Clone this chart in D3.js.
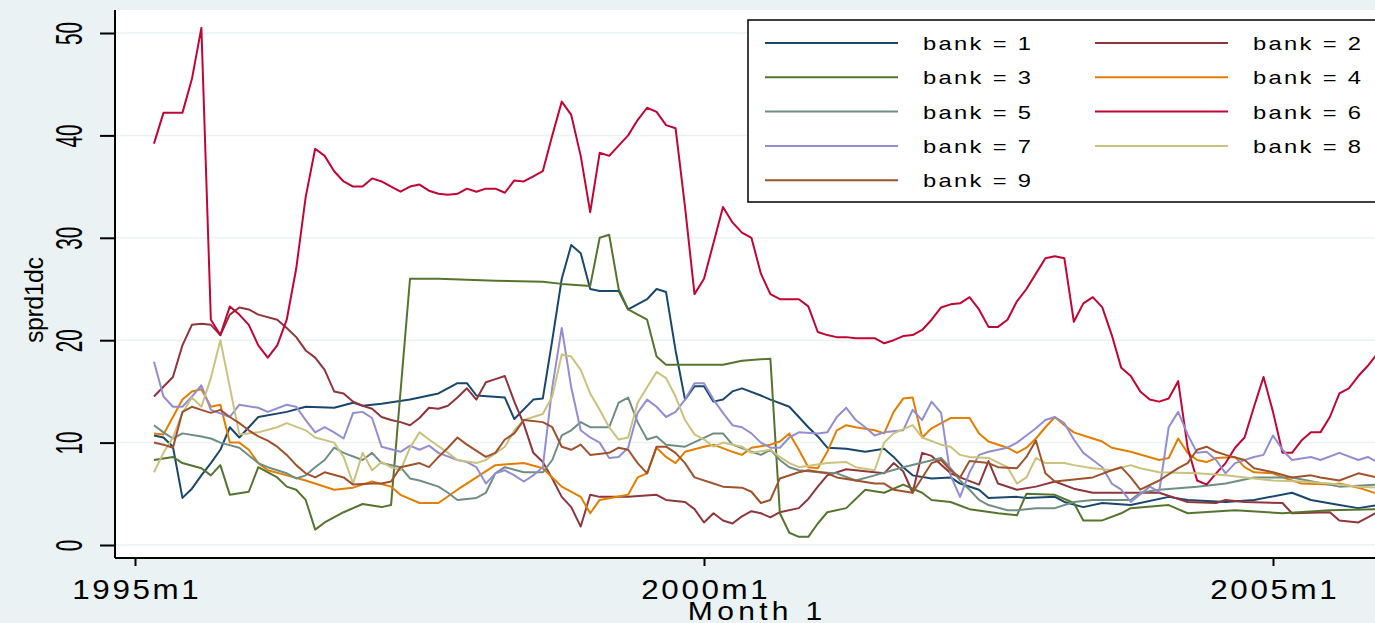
<!DOCTYPE html>
<html>
<head>
<meta charset="utf-8">
<script src="https://cdn.jsdelivr.net/npm/d3@7"></script>
<style>
  body { margin: 0; background: #eaf2f3; overflow: hidden; }
  svg { display: block; }
  text { font-family: "Liberation Sans", Arial, sans-serif; fill: #000; }
</style>
</head>
<body>
<div id="chart"></div>
<script>
// months counted from 1995m1 = 0, values = sprd1dc
const bank1 = [[2,10.7],[3,10.5],[4,9.6],[5,4.6],[6,5.5],[7,6.8],[8,8],[9,9.3],[10,11.5],[11,10.5],[13,12.5],[16,13],[18,13.5],[21,13.4],[23,13.9],[24,13.6],[26,13.8],[29,14.2],[32,14.8],[34,15.8],[35,15.8],[36,14.6],[39,14.4],[40,12.3],[42,14.2],[43,14.3],[44,20],[45,26],[46,29.3],[47,28.5],[48,25],[49,24.8],[51,24.8],[52,23],[54,24],[55,25],[56,24.7],[57,19],[58,14.2],[59,15.5],[60,15.5],[61,14],[62,14.2],[63,15],[64,15.3],[66,14.6],[67,14.2],[69,13.5],[70,12.5],[71,11.5],[72,10.6],[73,9.5],[75,9.4],[77,9.1],[79,9.4],[80,8.6],[81,7.6],[82,6.8],[84,6.5],[86,6.6],[87,6],[89,5.4],[90,4.6],[93,4.7],[94,4.6],[97,4.7],[98,4.2],[100,3.7],[102,4.1],[105,3.9],[109,4.7],[111,4.4],[115,4.2],[118,4.4],[122,5.1],[124,4.4],[127,3.9],[129,3.6],[131,3.9]];
const bank2 = [[2,14.5],[4,16.4],[5,19.5],[6,21.5],[7,21.6],[8,21.5],[9,20.5],[10,22.5],[11,23.2],[12,23],[13,22.5],[15,22],[16,21.2],[17,20.3],[18,19],[19,18.3],[20,17.1],[21,15],[22,14.8],[23,14],[24,13.6],[25,13.3],[26,12.5],[27,12.2],[28,12],[29,11.7],[30,12.4],[31,13.4],[32,13.3],[33,13.6],[34,14.4],[35,15.3],[36,14.2],[37,15.9],[38,16.2],[39,16.5],[40,14],[41,11.8],[42,9],[43,8.1],[44,6.5],[45,4.7],[46,3.7],[47,1.8],[48,4.9],[49,4.7],[52,4.7],[55,4.9],[56,4.4],[58,4.2],[59,3.5],[60,2.2],[61,3.1],[62,2.4],[63,2.1],[64,2.8],[65,3.3],[66,3.1],[67,2.7],[68,3.2],[70,3.6],[71,4.5],[72,5.7],[73,6.8],[75,7.4],[77,7.2],[79,7],[80,8],[81,7.2],[82,5.1],[83,9],[84,8.7],[86,7],[87,6.6],[89,5.9],[90,8.2],[91,6],[93,5.4],[95,5.7],[97,6.2],[99,5.5],[101,5.1],[105,5.1],[108,5.1],[111,4.2],[114,4.1],[115,4.4],[117,4.2],[121,4.1],[122,3.1],[126,3.2],[127,2.4],[129,2.2],[130,2.7],[131,3.2]];
const bank3 = [[2,8.3],[4,8.6],[5,8],[7,7.5],[8,6.8],[9,7.8],[10,4.9],[12,5.2],[13,7.6],[15,6.6],[16,5.7],[17,5.4],[18,4.4],[19,1.5],[20,2.2],[22,3.2],[24,4],[26,3.7],[27,3.9],[28,15],[29,26],[32,26],[35,25.9],[38,25.8],[43,25.7],[45,25.5],[48,25.3],[49,30],[50,30.3],[51,25],[52,23],[54,22],[55,18.4],[56,17.6],[62,17.6],[64,18],[67,18.2],[68,3.1],[69,1.2],[70,0.8],[71,0.8],[72,2.1],[73,3.2],[75,3.6],[77,5.4],[79,5.1],[81,5.9],[83,5.1],[84,4.4],[86,4.2],[88,3.5],[91,3.1],[93,2.9],[94,5],[97,4.9],[99,4.1],[100,2.4],[102,2.4],[104,3.1],[105,3.6],[109,3.9],[111,3.1],[116,3.4],[121,3.1],[126,3.4],[131,3.5]];
const bank4 = [[2,10.9],[3,10.8],[4,12.5],[5,14.2],[6,15],[7,15.2],[8,13.5],[9,13.7],[10,10],[11,10],[12,9.3],[13,8],[14,7.3],[16,6.8],[18,6.3],[21,5.4],[23,5.6],[25,6.2],[27,5.7],[28,4.9],[30,4.1],[32,4.1],[34,5.4],[36,6.6],[38,7.8],[41,8],[43,7.5],[45,5.7],[47,4.7],[48,3.1],[49,4.4],[52,4.9],[53,6.6],[54,7],[55,9.5],[56,8.6],[57,8],[58,9.1],[60,9.6],[61,9.8],[63,9.1],[64,8.8],[65,9.5],[67,9.8],[68,10.1],[69,10.9],[70,9.3],[71,7.6],[72,7.5],[73,9.1],[74,11.2],[75,11.7],[76,11.5],[78,11.2],[79,10.9],[80,13],[81,14.3],[82,14.4],[83,10.5],[84,11.4],[86,12.4],[88,12.4],[89,10.9],[90,10.1],[92,9.5],[93,9],[94,9.5],[95,10.4],[96,11.5],[97,12.5],[98,11.7],[99,11],[100,10.7],[102,10.1],[103,9.5],[105,9.1],[108,8.3],[109,8.5],[110,10.4],[111,9],[112,8.3],[113,8.1],[114,8.5],[116,8.6],[117,7.6],[118,7.1],[120,7],[121,6.6],[123,6],[126,5.9],[127,6],[129,5.6],[131,5]];
const bank5 = [[2,11.7],[3,11],[4,10.4],[5,10.9],[7,10.6],[8,10.4],[9,10],[11,9.5],[13,8],[14,7.6],[16,7],[17,6.5],[18,6.8],[19,7.6],[20,8.3],[21,9.5],[22,9],[24,8.3],[25,9],[26,8],[28,7.6],[29,6.5],[30,6.3],[32,5.7],[33,5.1],[34,4.4],[36,4.6],[37,5.1],[38,7],[39,7.6],[41,7.1],[43,7.1],[44,8.3],[45,10.7],[46,11.2],[47,12],[48,11.5],[50,11.5],[51,13.9],[52,14.4],[53,12],[54,10.3],[55,10.6],[56,9.8],[58,9.6],[61,10.9],[62,10.9],[63,9.8],[65,9.1],[66,8.8],[67,9.3],[68,8.3],[69,7.6],[70,7.3],[72,7.1],[74,7],[76,6.3],[78,6.8],[81,7.6],[85,8.5],[86,7.5],[87,6.3],[88,5.4],[89,4.4],[90,3.9],[92,3.4],[93,3.4],[95,3.6],[97,3.6],[99,4.2],[101,4.4],[105,4.4],[106,5.1],[108,5.4],[112,5.7],[115,6],[118,6.6],[122,6.6],[127,5.7],[131,5.9]];
const bank6 = [[2,39.2],[3,42.2],[4,42.2],[5,42.2],[6,45.5],[7,50.5],[8,22],[9,20.5],[10,23.3],[11,22.5],[12,21.5],[13,19.5],[14,18.3],[15,19.5],[16,22],[17,27],[18,34],[19,38.7],[20,38],[21,36.5],[22,35.5],[23,35],[24,35],[25,35.8],[26,35.5],[27,35],[28,34.5],[29,35],[30,35.2],[31,34.6],[32,34.3],[33,34.2],[34,34.3],[35,34.8],[36,34.5],[37,34.8],[38,34.8],[39,34.4],[40,35.6],[41,35.5],[42,36],[43,36.5],[44,40],[45,43.3],[46,42],[47,38],[48,32.5],[49,38.3],[50,38],[51,39],[52,40],[53,41.5],[54,42.7],[55,42.3],[56,41],[57,40.7],[58,33],[59,24.5],[60,26],[61,29.5],[62,33],[63,31.5],[64,30.5],[65,30],[66,26.5],[67,24.5],[68,24],[69,24],[70,24],[71,23.3],[72,20.8],[73,20.5],[74,20.3],[75,20.3],[76,20.2],[77,20.2],[78,20.2],[79,19.7],[80,20],[81,20.4],[82,20.5],[83,21],[84,22],[85,23.2],[86,23.5],[87,23.6],[88,24.2],[89,23],[90,21.3],[91,21.3],[92,22],[93,23.8],[94,25],[95,26.5],[96,28],[97,28.2],[98,28],[99,21.8],[100,23.6],[101,24.2],[102,23.2],[103,20.5],[104,17.3],[105,16.5],[106,15],[107,14.2],[108,14],[109,14.3],[110,16],[111,9.5],[112,6.3],[113,5.9],[114,7],[115,8],[116,9.5],[117,10.5],[118,13.5],[119,16.4],[120,13],[121,9],[122,9],[123,10.2],[124,11],[125,11],[126,12.5],[127,14.8],[128,15.3],[129,16.5],[130,17.5],[131,18.7]];
const bank7 = [[2,17.9],[3,14.5],[4,13.5],[5,13.5],[6,14.5],[7,15.6],[8,13.2],[10,12.5],[11,13.7],[13,13.4],[14,13],[16,13.7],[17,13.5],[18,12.2],[19,11],[20,11.5],[21,11],[22,10.4],[23,12.9],[24,13],[25,12.4],[26,9.6],[28,9.1],[29,9.7],[30,9.3],[31,9.7],[32,9],[34,8.3],[35,8.1],[36,7.6],[37,6],[38,7],[39,7.3],[40,6.8],[41,6.2],[42,6.8],[43,7.6],[44,15.4],[45,21.2],[46,15.4],[47,11.2],[48,10.5],[49,10],[50,8.5],[51,8.6],[52,9.5],[53,12.9],[54,14.2],[55,13.5],[56,12.5],[57,13],[58,14.2],[59,15.8],[60,15.8],[61,14.2],[62,12.9],[63,11.7],[64,11.5],[65,10.9],[66,10],[67,9.5],[68,9.5],[69,10.5],[70,11],[72,10.9],[73,11],[74,12.5],[75,13.4],[76,12.2],[77,11.5],[78,10.7],[79,11],[81,11.2],[82,13.2],[83,12.2],[84,14],[85,12.9],[86,6.8],[87,4.7],[88,7.1],[89,8.8],[90,9.1],[92,9.5],[93,10],[94,10.7],[95,11.4],[96,12.2],[97,12.5],[98,11.9],[99,10.3],[100,9],[101,8.3],[102,7.6],[103,6],[104,5.4],[105,4.2],[107,5.7],[108,5.2],[109,11.5],[110,13],[111,10.8],[112,9],[113,9.1],[114,8.3],[115,7],[116,8],[118,8.6],[119,8.8],[120,10.7],[121,9.3],[122,8.3],[124,8.6],[125,8.3],[127,9],[129,8.3],[130,8.6],[131,8.1]];
const bank8 = [[2,7.1],[3,9],[4,10.5],[5,12.9],[6,14.4],[7,13.5],[8,16.3],[9,20],[10,15.4],[11,10.8],[13,11],[15,11.5],[16,11.9],[18,11.2],[19,10.5],[21,10],[22,8.6],[23,6],[24,9],[25,7.3],[26,8.1],[27,7.6],[28,7.3],[29,9.5],[30,11],[31,10.3],[33,9],[34,8.3],[36,8],[37,8.3],[39,9.6],[40,11.2],[41,12.2],[43,12.8],[44,14.5],[45,18.6],[46,18.4],[47,17.1],[48,14.8],[49,13.2],[50,11.5],[51,10.3],[52,10.5],[53,13.9],[54,15.4],[55,16.9],[56,16.3],[57,14.5],[58,12.2],[59,10.8],[60,10.3],[61,9.6],[62,10],[64,9.6],[65,9],[67,9.3],[68,8.6],[69,8],[70,7.6],[73,8],[75,8.1],[76,7.6],[78,7.3],[79,10],[80,10.9],[82,11.7],[83,10.5],[85,9.8],[86,9.6],[87,8.8],[88,8.6],[90,8.5],[92,7.6],[93,6],[94,6.6],[95,8.5],[96,8],[98,8],[99,7.8],[101,7.5],[103,7.3],[105,7.8],[106,7.5],[108,7.1],[112,7],[115,6.8],[118,6.5],[120,6.3],[123,6.2],[126,6],[129,5.7],[131,5.6]];
const bank9 = [[2,10],[3,9.8],[4,9.5],[5,13],[6,13.5],[7,13.2],[8,12.9],[9,13.2],[10,12.5],[11,11.9],[12,11.2],[13,10.6],[14,10.2],[15,9.6],[16,8.8],[17,7.8],[18,7],[19,6.6],[20,7.1],[22,6.6],[23,5.9],[25,6],[26,6],[27,6.2],[28,7.6],[30,8],[31,7.6],[32,8.6],[33,9.5],[34,10.5],[35,9.8],[37,8.6],[38,9],[39,10.3],[40,10.9],[41,12.2],[43,12],[44,11.5],[45,9.6],[46,9.3],[47,9.8],[48,8.8],[50,9],[51,9.5],[52,9.3],[53,8],[54,7],[55,9.6],[56,9.6],[57,9],[58,8],[59,6.6],[61,6],[62,5.7],[64,5.6],[65,5.2],[66,4.1],[67,4.4],[68,6.5],[70,7.1],[71,7.3],[73,7],[74,6.6],[76,6.3],[78,6],[79,6],[80,5.4],[82,5.1],[84,8],[85,8.3],[86,7.3],[87,6.6],[88,8.2],[90,8],[91,7.6],[93,7.5],[94,8.6],[95,10.2],[96,7],[97,6.2],[98,6.3],[100,6.5],[101,6.6],[103,7.3],[104,7.6],[105,6.6],[106,5.4],[108,6.3],[110,7.5],[111,8],[112,9.3],[113,9.6],[114,9.1],[115,8.8],[117,8.3],[118,7.5],[120,7.1],[122,6.6],[124,6.8],[125,6.6],[127,6.3],[129,7],[131,6.6]];

const seriesNames = ['bank = 1','bank = 2','bank = 3','bank = 4','bank = 5','bank = 6','bank = 7','bank = 8','bank = 9'];
const seriesColors = ['#1a476f','#90353b','#55752f','#e37e00','#6e8e84','#c10534','#938dd2','#cac27e','#a0522d'];
const yTicks = [0, 10, 20, 30, 40, 50];
const xTickMonths = [0, 60, 120];
const xTickLabels = ['1995m1', '2000m1', '2005m1'];

document.addEventListener('DOMContentLoaded', () => {
    const width = 1375, height = 623;
    const plot = { left: 115, top: 10, right: 1375, bottom: 558 };
    const allSeries = [bank1, bank2, bank3, bank4, bank5, bank6, bank7, bank8, bank9];

    const svg = d3.select('#chart').append('svg')
        .attr('width', width)
        .attr('height', height);

    svg.append('rect').attr('width', width).attr('height', height).attr('fill', '#eaf2f3');
    svg.append('rect')
        .attr('x', plot.left).attr('y', plot.top)
        .attr('width', plot.right - plot.left).attr('height', plot.bottom - plot.top)
        .attr('fill', '#fff');

    const xScale = d3.scaleLinear().domain([0, 120]).range([135, 1273]);
    const yScale = d3.scaleLinear().domain([0, 50]).range([545, 33]);

    // grid
    svg.append('g').selectAll('line')
        .data(yTicks)
        .join('line')
        .attr('x1', plot.left).attr('x2', plot.right)
        .attr('y1', d => yScale(d)).attr('y2', d => yScale(d))
        .attr('stroke', '#eaf2f3').attr('stroke-width', 1.5);

    svg.append('clipPath').attr('id', 'clip')
        .append('rect')
        .attr('x', plot.left).attr('y', plot.top)
        .attr('width', plot.right - plot.left).attr('height', plot.bottom - plot.top);

    const line = d3.line()
        .x(d => xScale(d[0]))
        .y(d => yScale(d[1]));

    svg.append('g').attr('clip-path', 'url(#clip)')
        .selectAll('path')
        .data(allSeries)
        .join('path')
        .attr('d', line)
        .attr('fill', 'none')
        .attr('stroke', (d, i) => seriesColors[i])
        .attr('stroke-width', 2)
        .attr('stroke-linejoin', 'round');

    // y axis
    const yAxis = svg.append('g')
        .attr('transform', 'translate(' + plot.left + ',0)')
        .call(d3.axisLeft(yScale).tickValues(yTicks).tickSize(15).tickPadding(0));
    yAxis.select('.domain').attr('d', 'M0,' + plot.top + 'V' + plot.bottom).attr('stroke-width', 2);
    yAxis.selectAll('.tick line').attr('stroke-width', 2);
    yAxis.selectAll('.tick text')
        .attr('x', null).attr('dy', null)
        .attr('transform', 'translate(-33,0) rotate(-90)')
        .attr('text-anchor', 'middle')
        .attr('font-size', 37)
        .attr('textLength', d => String(d).length * 11.5)
        .attr('lengthAdjust', 'spacingAndGlyphs');

    // x axis (labels stretched a bit wider, like the original export)
    const xAxis = svg.append('g')
        .attr('transform', 'translate(0,' + plot.bottom + ')')
        .call(d3.axisBottom(xScale).tickValues(xTickMonths).tickSize(8)
            .tickFormat((d, i) => xTickLabels[i]));
    xAxis.select('.domain').attr('d', 'M' + plot.left + ',0H' + plot.right).attr('stroke-width', 2);
    xAxis.selectAll('.tick line').attr('stroke-width', 2);
    xAxis.selectAll('.tick text')
        .attr('y', 0).attr('dy', null)
        .attr('transform', 'translate(0,41) scale(1.12,1)')
        .attr('font-size', 28)
        .attr('textLength', 113)
        .attr('lengthAdjust', 'spacing');

    svg.append('text')
        .attr('transform', 'translate(755,620) scale(1.2,1)')
        .attr('text-anchor', 'middle')
        .attr('font-size', 25)
        .attr('textLength', 112).attr('lengthAdjust', 'spacing')
        .text('Month  1');

    svg.append('text')
        .attr('transform', 'translate(43,300) rotate(-90)')
        .attr('text-anchor', 'middle')
        .attr('font-size', 25)
        .attr('textLength', 86).attr('lengthAdjust', 'spacing')
        .text('sprd1dc');

    // legend
    const legend = svg.append('g');
    legend.append('rect')
        .attr('x', 748).attr('y', 20)
        .attr('width', 700).attr('height', 182)
        .attr('fill', '#fff').attr('stroke', '#000').attr('stroke-width', 1.5);

    const items = legend.selectAll('g.item')
        .data(seriesNames)
        .join('g')
        .attr('class', 'item')
        .attr('transform', (d, i) => 'translate(' + (i % 2 === 0 ? 765 : 1095) + ',' + (43 + Math.floor(i / 2) * 34.3) + ')');
    items.append('line')
        .attr('x1', 0).attr('x2', 133)
        .attr('stroke', (d, i) => seriesColors[i]).attr('stroke-width', 2);
    items.append('text')
        .attr('transform', 'translate(158,7) scale(1.25,1)')
        .attr('font-size', 19)
        .attr('textLength', 86.4).attr('lengthAdjust', 'spacing')
        .text(d => d);
});
</script>
</body>
</html>
